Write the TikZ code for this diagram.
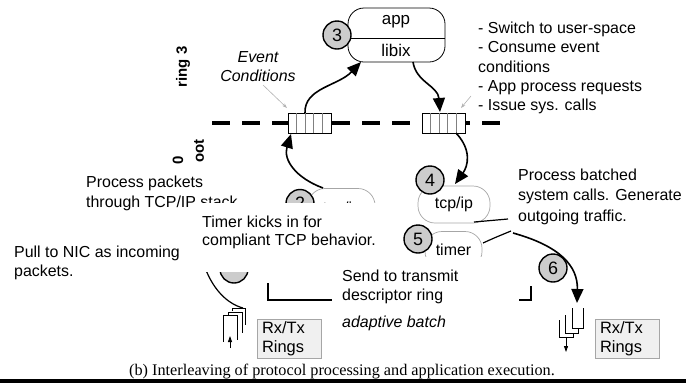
\documentclass[tikz,border=0pt]{standalone}
\usepackage{fontspec}
\setmainfont{Liberation Sans}
\newfontfamily\capfont{Liberation Serif}
\usetikzlibrary{arrows.meta}

\begin{document}
\begin{tikzpicture}[x=1bp,y=-1bp,
  lbl/.style={font=\fontsize{16}{19.2}\selectfont, inner sep=0pt, align=left, anchor=north west},
  num/.style={circle, draw, line width=1.4bp, fill=gray!40, minimum size=28bp, inner sep=0pt,
              font=\fontsize{18}{18}\selectfont},
  pill/.style={draw=gray!70, line width=0.7bp, rounded corners=17bp, inner sep=0pt,
               font=\fontsize{16}{16}\selectfont},
  queue/.style={draw, line width=0.8bp, fill=white, minimum width=43bp, minimum height=20bp, inner sep=0pt},
  flow/.style={line width=1.6bp, -{Triangle[length=14bp,width=12bp]}},
  link/.style={line width=1.2bp},
  hint/.style={draw=gray!60, line width=0.6bp, -{Stealth[length=5bp,width=3.5bp]}},
  icon/.style={line width=0.8bp},
  mask/.style={fill=white, draw=none},
  ringbox/.style={draw=gray!70, fill=gray!12, line width=0.8bp, text width=54bp, inner xsep=5bp,
                  inner ysep=0pt, minimum height=39bp, align=left, font=\fontsize{16.5}{19}\selectfont},
  privlbl/.style={rotate=90, inner sep=0pt, font=\fontsize{15}{15}\selectfont\bfseries},
]
\useasboundingbox (0,0) rectangle (686,383);

% user/kernel boundary
\draw[line width=4bp, dash pattern=on 18bp off 12bp] (212,123) -- (508,123);

% event queues sitting on the boundary
\node[queue] (q1) at (309.5,123) {};
\node[queue] (q2) at (443.5,123) {};
\foreach \q in {q1,q2}
  \foreach \i in {1,...,4}
    \draw[gray, line width=0.5bp] ([xshift=\i*8.6bp]\q.south west) -- ([xshift=\i*8.6bp]\q.north west);

% application box
\node[draw, line width=0.8bp, rounded corners=16bp, minimum width=97bp, minimum height=54bp] (app) at (396.5,35) {};
\draw[line width=0.8bp] ([yshift=-3bp]app.west) -- ([yshift=-3bp]app.east);
\node[font=\fontsize{17}{17}\selectfont] (apptxt) at (396,22) {app};
\node[font=\fontsize{17}{17}\selectfont] (libtxt) at (396,50) {libix};
\node[num] (c3) at (337,35) {3};

% user-space flow
\coordinate (q1top) at (305,113);
\coordinate (appin) at (361,62);
\coordinate (appout) at (413,62);
\coordinate (q2top) at (440,112);
\coordinate (q2bot) at (456,133);
\coordinate (tcpin) at (455,184);
\draw[flow] (q1top) .. controls (304,88) and (338,86) .. (appin);
\draw[flow] (appout) .. controls (416,82) and (438,86) .. (q2top);
\draw[flow] (q2bot) .. controls (472,150) and (468,166) .. (tcpin);

% receive side
\node[pill, minimum width=67bp, minimum height=37bp] (tcpL) at (341.5,207) {};
\node[font=\fontsize{16}{16}\selectfont, inner sep=0pt] (tcpLtxt) at (342,209) {tcp/ip};
\node[num] (c2) at (300,203.5) {2};
\coordinate (c2out) at (323,188);
\coordinate (q1bot) at (291,134);
\draw[flow] (c2out) .. controls (296,178) and (283,160) .. (q1bot);

\node[num] (c1) at (234,269) {};
\coordinate (nicA) at (203,262);
\coordinate (nicB) at (243,308);
\draw[link] (nicA) .. controls (212,290) and (228,304) .. (nicB);

% transmit side
\node[pill, minimum width=72bp, minimum height=37bp] (tcpR) at (454,204.5) {tcp/ip};
\node[num] (c4) at (430,180) {4};
\node[pill, minimum width=57bp, minimum height=37bp] (timer) at (453.5,250) {timer};
\node[num] (c5) at (418,239) {5};

\coordinate (tcpR1) at (474,222);
\coordinate (txt1) at (508,219);
\coordinate (tmr1) at (483,243);
\coordinate (txt2) at (511,231);
\draw[link] (tcpR1) -- (txt1);
\draw[link] (tmr1) .. controls (494,238) .. (txt2);

% batch bracket
\coordinate (brA) at (268,283);
\coordinate (brB) at (531,286);
\draw[line width=1.6bp] (brA) -- (268,300) -- (531,300) -- (brB);

% white panels behind the labels
\fill[mask] (198,203) rectangle (386,272);
\fill[mask] (332,257) rectangle (519,312);

% labels
\node[privlbl] (r3) at (183,67) {ring 3};
\node[privlbl] (r0) at (178,160) {0};
\node[privlbl] (rt) at (199,151) {oot};

\node[lbl, align=center, anchor=north, font=\fontsize{16}{19}\selectfont\itshape] (evc) at (258,51) {Event\\Conditions};
\node[lbl] (steps) at (478,22) {- Switch to user-space\\- Consume event\\conditions\\- App process requests\\- Issue sys. calls};
\node[lbl, font=\fontsize{16}{20}\selectfont] (rxtxt) at (86,176) {Process packets\\through TCP/IP stack};
\fill[mask] (198,203) rectangle (386,212);
\node[lbl, font=\fontsize{16}{18}\selectfont] (tmtxt) at (202,215.5) {Timer kicks in for\\compliant TCP behavior.};
\node[lbl] (nictxt) at (14,246) {Pull to NIC as incoming\\packets.};
\node[lbl, font=\fontsize{16}{20.3}\selectfont] (txtxt) at (518,169) {Process batched\\system calls. Generate\\outgoing traffic.};
\node[lbl] (sendtxt) at (342,270) {Send to transmit\\descriptor ring};
\node[lbl, anchor=base west, font=\fontsize{16}{16}\selectfont\itshape] (batch) at (342,327.5) {adaptive batch};

\draw[hint] (263,85) -- (287,108);
\draw[hint] (471,96) -- (461,108);

% descriptor rings
\draw[icon] (232,311) -- (232,308) -- (245,308) -- (245,325);
\draw[icon] (228,315) -- (228,312) -- (242,312) -- (242,333);
\draw[icon] (223,342) -- (223,315) -- (237,315) -- (237,340);
\coordinate (rxa) at (230,348);
\coordinate (rxb) at (230,336);
\draw[icon, -{Triangle[length=6bp,width=4bp]}] (rxa) -- (rxb);

\draw[icon] (572,308) -- (572,328) -- (583,328) -- (583,308);
\draw[icon] (565,315) -- (565,333) -- (578,333) -- (578,329);
\draw[icon] (559,320) -- (559,337) -- (573,337) -- (573,334);
\coordinate (txa) at (566,337);
\coordinate (txb) at (566,352);
\draw[icon, -{Triangle[length=6bp,width=4bp]}] (txa) -- (txb);

\node[ringbox] (ringL) at (289,338.5) {Rx/Tx\\Rings};
\node[ringbox] (ringR) at (627,339) {Rx/Tx\\Rings};

\node[num] (c6) at (553,268) {6};
\coordinate (outA) at (513,233);
\coordinate (outB) at (577,303);
\draw[flow] (outA) .. controls (560,246) and (578,266) .. (outB);

% caption and rule
\node[anchor=base, inner sep=0pt, font=\capfont\fontsize{16.3}{18}\selectfont] (cap) at (342,375)
  {(b) Interleaving of protocol processing and application execution.};
\fill (0,379) rectangle (686,383);
\end{tikzpicture}
\end{document}
